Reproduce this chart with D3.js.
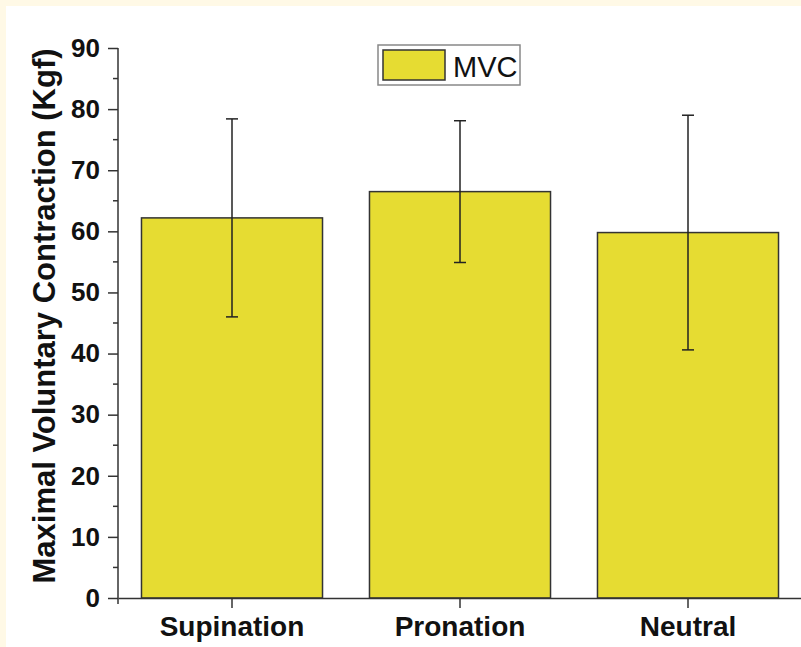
<!DOCTYPE html>
<html>
<head>
<meta charset="utf-8">
<script src="https://cdn.jsdelivr.net/npm/d3@7"></script>
<style>
  html, body { margin: 0; padding: 0; background: #fff9e6; }
  svg { display: block; }
</style>
</head>
<body>
<svg id="chart" width="801" height="647"></svg>
<script>
// data
const categories = ["Supination", "Pronation", "Neutral"];
const means = [62.2, 66.5, 59.8];
const errors = [16.2, 11.6, 19.2];
const yTicks = [0, 10, 20, 30, 40, 50, 60, 70, 80, 90];

const svg = d3.select("#chart");
const font = "Liberation Sans, Arial, sans-serif";

// white panel inside cream frame
svg.append("rect")
  .attr("x", 6).attr("y", 6)
  .attr("width", 801).attr("height", 647)
  .attr("fill", "#ffffff");

const margin = { left: 118, top: 48, right: 0, bottom: 49 };
const plotW = 802 - margin.left;
const plotH = 598 - margin.top;

const g = svg.append("g")
  .attr("transform", "translate(" + margin.left + "," + margin.top + ")");

const x = d3.scaleBand().domain(categories).range([0, plotW]).paddingInner(0.206).paddingOuter(0.103);
const y = d3.scaleLinear().domain([0, 90]).range([plotH, 0]);

const data = categories.map((c, i) => ({ cat: c, mean: means[i], err: errors[i] }));

// bars
g.selectAll("rect.bar")
  .data(data)
  .enter().append("rect")
  .attr("class", "bar")
  .attr("x", d => x(d.cat))
  .attr("y", d => y(d.mean))
  .attr("width", x.bandwidth())
  .attr("height", d => y(0) - y(d.mean))
  .attr("fill", "#e6dc32")
  .attr("stroke", "#333")
  .attr("stroke-width", 1.5);

// error bars
const eb = g.selectAll("g.err").data(data).enter().append("g")
  .attr("transform", d => "translate(" + (x(d.cat) + x.bandwidth() / 2) + ",0)")
  .attr("stroke", "#222").attr("stroke-width", 1.5);
eb.append("line").attr("y1", d => y(d.mean + d.err)).attr("y2", d => y(d.mean - d.err));
eb.append("line").attr("x1", -6).attr("x2", 6).attr("y1", d => y(d.mean + d.err)).attr("y2", d => y(d.mean + d.err));
eb.append("line").attr("x1", -6).attr("x2", 6).attr("y1", d => y(d.mean - d.err)).attr("y2", d => y(d.mean - d.err));

// y axis
const yAxis = g.append("g")
  .call(d3.axisLeft(y).tickValues(yTicks).tickSize(10).tickPadding(8).tickSizeOuter(0));
yAxis.select(".domain").attr("stroke", "#333").attr("stroke-width", 1.5).attr("d", "M0,0V" + (plotH + 6));
yAxis.selectAll(".tick line").attr("stroke", "#333").attr("stroke-width", 1.5);
yAxis.selectAll(".tick text")
  .attr("font-family", font)
  .attr("font-weight", "bold").attr("font-size", 26).attr("fill", "#111");

// minor y ticks
g.selectAll("line.minor")
  .data(d3.range(5, 90, 10))
  .enter().append("line")
  .attr("x1", -5).attr("x2", 0)
  .attr("y1", d => y(d)).attr("y2", d => y(d))
  .attr("stroke", "#333").attr("stroke-width", 1.5);

// x axis
const xAxis = g.append("g")
  .attr("transform", "translate(0," + plotH + ")")
  .call(d3.axisBottom(x).tickSize(10).tickPadding(8).tickSizeOuter(0));
xAxis.select(".domain").attr("stroke", "#333").attr("stroke-width", 1.5);
xAxis.selectAll(".tick line").attr("stroke", "#333").attr("stroke-width", 1.5);
xAxis.selectAll(".tick text")
  .attr("font-family", font)
  .attr("font-weight", "bold").attr("font-size", 28).attr("fill", "#111");

// y axis title
svg.append("text")
  .attr("transform", "translate(55,316) rotate(-90)")
  .attr("text-anchor", "middle")
  .attr("font-family", font)
  .attr("font-weight", "bold").attr("font-size", 31).attr("fill", "#111")
  .text("Maximal Voluntary Contraction (Kgf)");

// legend
const lg = svg.append("g").attr("transform", "translate(378,45)");
lg.append("rect").attr("width", 142).attr("height", 40)
  .attr("fill", "#fff").attr("stroke", "#888").attr("stroke-width", 1.5);
lg.append("rect").attr("x", 5).attr("y", 5).attr("width", 62).attr("height", 30)
  .attr("fill", "#e6dc32").attr("stroke", "#333").attr("stroke-width", 1.5);
lg.append("text").attr("x", 75).attr("y", 32)
  .attr("font-family", font)
  .attr("font-size", 29).attr("fill", "#111")
  .text("MVC");
</script>
</body>
</html>
